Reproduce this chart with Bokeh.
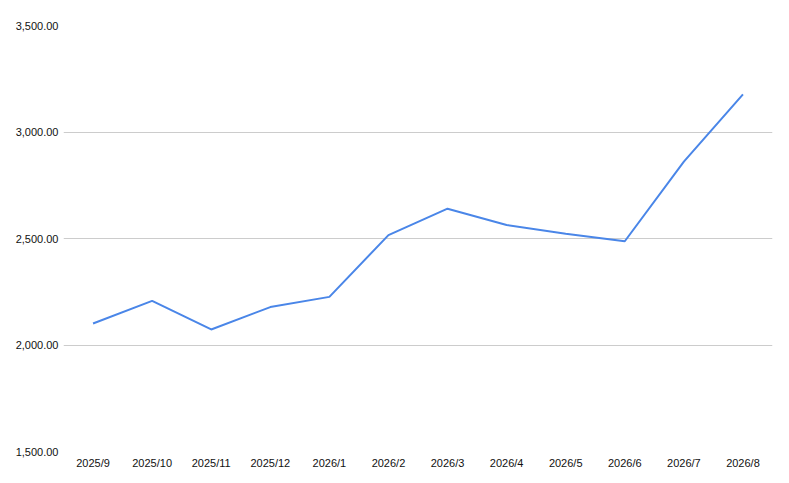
from bokeh.plotting import figure
from bokeh.models import FactorRange, Range1d, FixedTicker, NumeralTickFormatter
from bokeh.embed import file_html
from bokeh.resources import INLINE

months = ["2025/9", "2025/10", "2025/11", "2025/12", "2026/1", "2026/2",
          "2026/3", "2026/4", "2026/5", "2026/6", "2026/7", "2026/8"]
values = [2101, 2207, 2073, 2178, 2226, 2516, 2640, 2563, 2522, 2487, 2861, 3177]
y_ticks = [1500, 2000, 2500, 3000, 3500]

p = figure(width=781, height=475, output_backend="svg", toolbar_location=None,
           x_range=FactorRange(*months), y_range=Range1d(1500, 3500),
           min_border_left=63, min_border_right=9, min_border_top=25, min_border_bottom=24)
p.outline_line_color = None
p.background_fill_color = "white"

p.line(months, values, line_color="#4a86e8", line_width=2)

p.yaxis.ticker = FixedTicker(ticks=y_ticks)
p.yaxis.formatter = NumeralTickFormatter(format="0,0.00")
for ax in (p.xaxis[0], p.yaxis[0]):
    ax.axis_line_color = None
    ax.major_tick_line_color = None
    ax.minor_tick_line_color = None
    ax.major_tick_out = 0
    ax.major_tick_in = 0
    ax.major_label_text_font = "Liberation Sans"
    ax.major_label_text_font_size = "11px"
    ax.major_label_text_color = "#111111"
    ax.major_label_standoff = 5

p.xgrid.grid_line_color = None
p.ygrid.grid_line_color = "#cccccc"
p.ygrid.grid_line_width = 1

open("out.html", "w").write(file_html(p, INLINE))
